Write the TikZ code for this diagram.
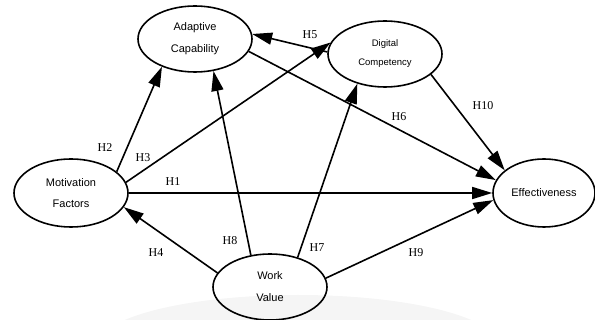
\documentclass[tikz,border=0pt]{standalone}
\usepackage{fontspec}
\setmainfont{Liberation Serif}
\newfontfamily\nodefont{Liberation Sans}
\usetikzlibrary{shapes.geometric,arrows.meta}
\begin{document}
\begin{tikzpicture}[x=1pt,y=-1pt,
  latent/.style={draw,ellipse,line width=1.6pt,inner sep=0pt,align=center},
  hyp/.style={line width=1.6pt,-{Triangle[length=20pt,width=12pt]}},
  hlab/.style={font=\fontsize{12}{12}\selectfont,inner sep=0pt}]
\useasboundingbox (0,0) rectangle (595,320);
\begin{scope}
\clip (0,0) rectangle (595,320);
\fill[gray!8] (298,345) ellipse [x radius=200, y radius=50];
\end{scope}
\node[latent,minimum width=114pt,minimum height=66pt,font=\nodefont\fontsize{11}{22}\selectfont] (A) at (195,39) {Adaptive\\Capability};
\node[latent,minimum width=114pt,minimum height=66pt,font=\nodefont\fontsize{9.5}{19}\selectfont] (D) at (385,54) {Digital\\Competency};
\node[latent,minimum width=114pt,minimum height=68pt,font=\nodefont\fontsize{11}{21}\selectfont] (M) at (71,193) {Motivation\\Factors};
\node[latent,minimum width=102pt,minimum height=68pt,font=\nodefont\fontsize{11}{21}\selectfont] (E) at (544,193) {Effectiveness};
\node[latent,minimum width=114pt,minimum height=66pt,font=\nodefont\fontsize{11}{22}\selectfont] (W) at (270,287) {Work\\Value};
\draw[hyp] (M.0) -- (E.180);
\draw[hyp] (M.25) -- (A.220);
\draw[hyp] (M.11) -- (D.168);
\draw[hyp] (W.165) -- (M.345);
\draw[hyp] (D.178) -- (A.5);
\draw[hyp] (A.-13) -- (E.165);
\draw[hyp] (W.47) -- (D.227);
\draw[hyp] (W.121) -- (A.300);
\draw[hyp] (W.9) -- (E.188);
\draw[hyp] (D.336) -- (E.150);
\node[hlab] (l1) at (173,182) {H1};
\node[hlab] (l2) at (105,148) {H2};
\node[hlab] (l3) at (143,158) {H3};
\node[hlab] (l4) at (156,253) {H4};
\node[hlab] (l5) at (310,35) {H5};
\node[hlab] (l6) at (399,117) {H6};
\node[hlab] (l7) at (317,248) {H7};
\node[hlab] (l8) at (230,241) {H8};
\node[hlab] (l9) at (416,253) {H9};
\node[hlab] (l10) at (483,106) {H10};
\end{tikzpicture}
\end{document}
